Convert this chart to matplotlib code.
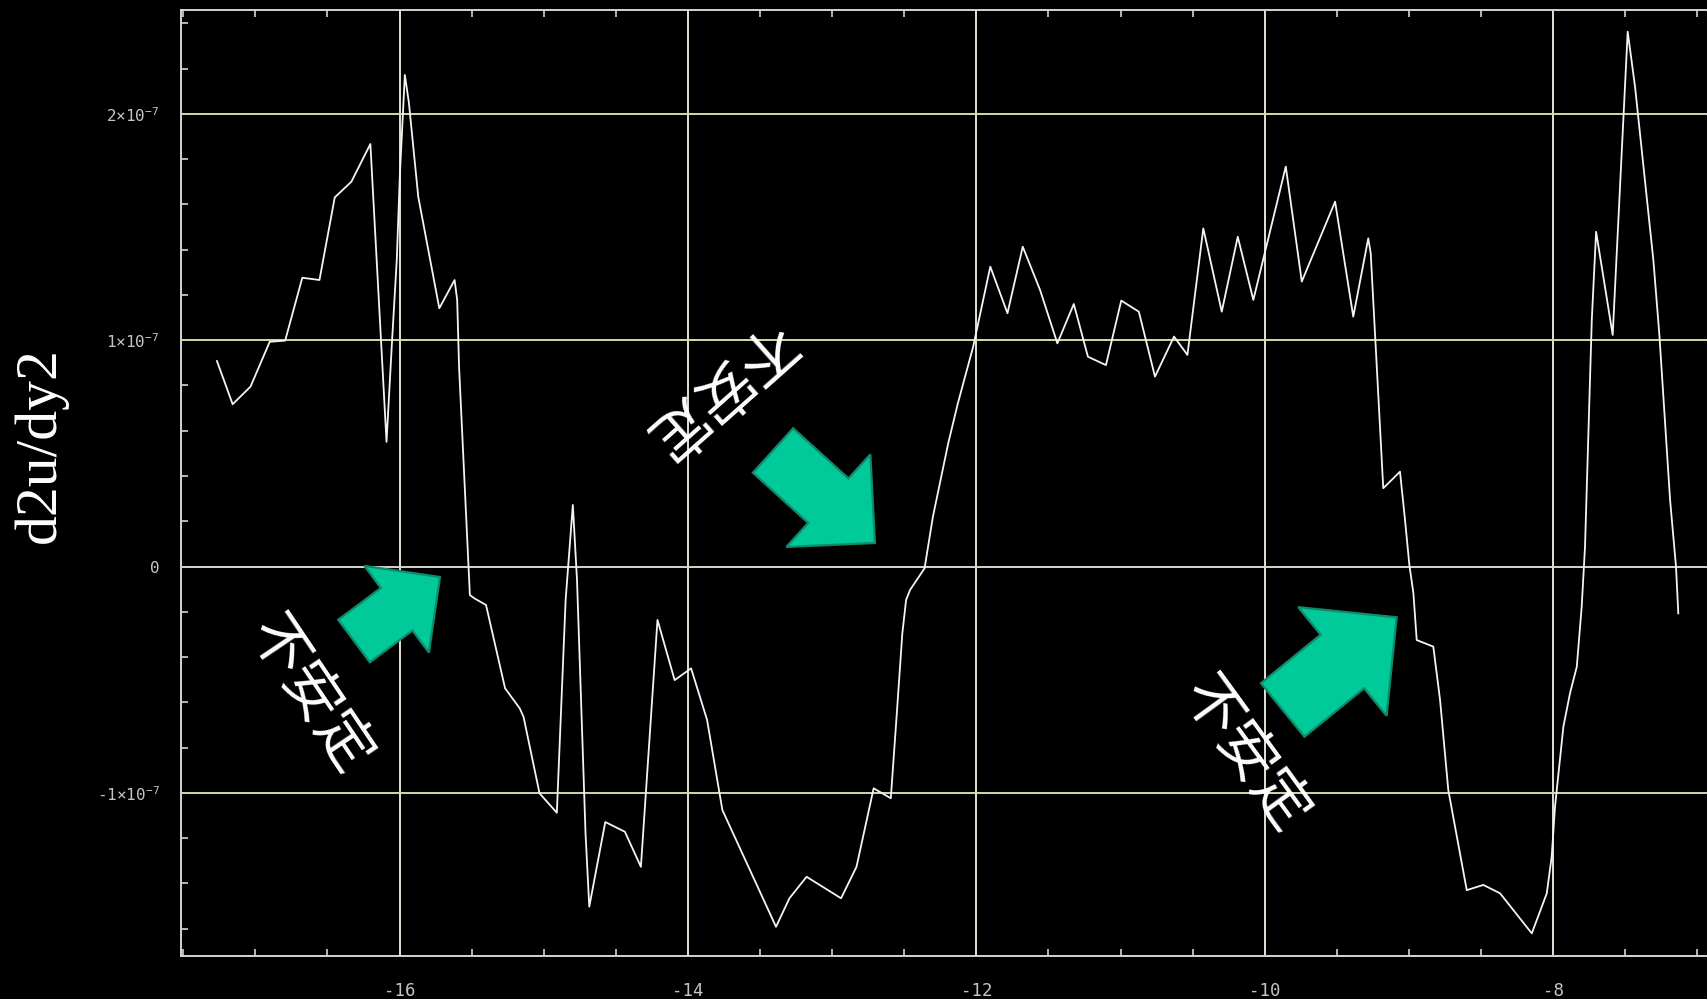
import numpy as np
import matplotlib
matplotlib.use("Agg")
import matplotlib.pyplot as plt
from matplotlib.patches import Polygon
from matplotlib.ticker import MultipleLocator

# ---- data: position y and second derivative d2u/dy2 (units of 1e-7) ----
y_pos = [-17.266, -17.157, -17.033, -16.900, -16.793, -16.674, -16.555, -16.449,
         -16.334, -16.202, -16.090, -16.054, -16.019, -15.997, -15.963, -15.935,
         -15.870, -15.724, -15.618, -15.600, -15.587, -15.512, -15.480, -15.400,
         -15.268, -15.166, -15.140, -15.029, -14.909, -14.848, -14.798, -14.769,
         -14.710, -14.684, -14.573, -14.437, -14.326, -14.211, -14.092, -13.978,
         -13.867, -13.761, -13.389, -13.296, -13.177, -12.938, -12.831, -12.712,
         -12.593, -12.553, -12.513, -12.487, -12.460, -12.359, -12.301, -12.195,
         -12.128, -12.022, -11.903, -11.784, -11.678, -11.558, -11.438, -11.324,
         -11.226, -11.101, -10.995, -10.873, -10.761, -10.629, -10.536, -10.426,
         -10.298, -10.187, -10.079, -9.854, -9.743, -9.512, -9.386, -9.282,
         -9.265, -9.223, -9.178, -9.062, -9.027, -8.997, -8.969, -8.946,
         -8.831, -8.784, -8.727, -8.599, -8.484, -8.368, -8.148, -8.044,
         -8.010, -7.987, -7.929, -7.883, -7.836, -7.802, -7.779, -7.732,
         -7.702, -7.587, -7.483, -7.432, -7.305, -7.264, -7.189, -7.148, -7.132]
d2u = [0.908, 0.717, 0.795, 0.993, 0.998, 1.276, 1.266, 1.631,
       1.700, 1.867, 0.551, 0.971, 1.354, 1.737, 2.172, 2.050,
       1.634, 1.141, 1.266, 1.178, 0.883, -0.126, -0.141, -0.170,
       -0.538, -0.627, -0.664, -1.002, -1.088, -0.148, 0.272, -0.060,
       -1.179, -1.503, -1.129, -1.172, -1.327, -0.236, -0.502, -0.450,
       -0.678, -1.076, -1.592, -1.466, -1.371, -1.466, -1.327, -0.980,
       -1.024, -0.664, -0.295, -0.148, -0.104, -0.008, 0.220, 0.544,
       0.721, 0.971, 1.325, 1.119, 1.413, 1.222, 0.986, 1.160,
       0.927, 0.890, 1.175, 1.126, 0.839, 1.016, 0.935, 1.494,
       1.126, 1.457, 1.178, 1.767, 1.259, 1.612, 1.104, 1.450,
       1.384, 0.883, 0.346, 0.419, 0.205, 0.007, -0.118, -0.325,
       -0.354, -0.590, -0.988, -1.430, -1.407, -1.444, -1.621, -1.444,
       -1.282, -1.061, -0.708, -0.560, -0.443, -0.178, 0.087, 1.089,
       1.479, 1.023, 2.363, 2.120, 1.354, 1.030, 0.294, 0.000, -0.207]
SCALE = 1e-7

x_ticks = [-16, -14, -12, -10, -8]
x_tick_labels = ["-16", "-14", "-12", "-10", "-8"]
y_ticks = [-1, 0, 1, 2]
y_tick_labels = [r"-1×10$^{\mathdefault{-7}}$", "0",
                 r"1×10$^{\mathdefault{-7}}$", r"2×10$^{\mathdefault{-7}}$"]

label_text = "不安定"

W, H = 1707, 999
fig = plt.figure(figsize=(W / 100, H / 100), dpi=100, facecolor="black")
ax = fig.add_axes([180.6 / W, 1 - 956 / H, 1 - 180.6 / W, (956 - 10) / H])
ax.set_facecolor("black")

# grid lines
grid_v = "#e2e2d4"
grid_h = "#d8d8a6"
for xv in x_ticks:
    ax.axvline(xv, color=grid_v, lw=1.4, zorder=1)
for yv in y_ticks:
    ax.axhline(yv * SCALE, color="#d6d6d0" if yv == 0 else grid_h, lw=1.4, zorder=1)

ax.plot(y_pos, np.array(d2u) * SCALE, color="#f4f4f4", lw=1.3, zorder=3)

ax.set_xlim(-17.518, -6.933)
ax.set_ylim(-1.721 * SCALE, 2.459 * SCALE)

ax.set_xticks(x_ticks)
ax.set_xticklabels(x_tick_labels)
ax.set_yticks([v * SCALE for v in y_ticks])
ax.set_yticklabels(y_tick_labels)
ax.xaxis.set_minor_locator(MultipleLocator(0.5))
ax.yaxis.set_minor_locator(MultipleLocator(0.2 * SCALE))

spine_c = "#d4d4d4"
for side in ("left", "bottom", "top"):
    ax.spines[side].set_color(spine_c)
    ax.spines[side].set_linewidth(1.4)
ax.spines["right"].set_visible(False)

ax.tick_params(axis="both", which="both", direction="in", color=spine_c, width=1.2)
ax.tick_params(axis="x", which="both", top=True, bottom=True)
ax.tick_params(axis="x", which="major", length=0, pad=19)
ax.tick_params(axis="x", which="minor", length=5)
ax.tick_params(axis="y", which="major", length=0, pad=15)
ax.tick_params(axis="y", which="minor", length=5, left=True, right=False)
for t in ax.get_xticklabels():
    t.set_fontfamily("DejaVu Sans Mono")
    t.set_fontsize(12.5)
    t.set_color("#c4c4c4")
for t in ax.get_yticklabels():
    t.set_fontfamily("DejaVu Sans Mono")
    t.set_fontsize(11.5)
    t.set_color("#c4c4c4")

# axis title
fig.text(40.5 / W, 1 - 445 / H, "d2u/dy2", rotation=90, ha="center", va="center",
         color="white", fontsize=43, family="Liberation Serif")


def block_arrow(tail, tip, shaft_w, head_w, head_len):
    """Block arrow in figure pixels (origin top-left)."""
    t = np.array(tail, float)
    p = np.array(tip, float)
    d = p - t
    L = np.hypot(*d)
    u = d / L
    n = np.array([-u[1], u[0]])
    neck = t + u * (L - head_len)
    pts = [t + n * shaft_w / 2, neck + n * shaft_w / 2, neck + n * head_w / 2, p,
           neck - n * head_w / 2, neck - n * shaft_w / 2,
           t - n * shaft_w / 2]
    pts = [(x / W, 1 - y / H) for x, y in pts]
    fig.patches.append(Polygon(pts, closed=True, transform=fig.transFigure,
                               facecolor="#00c99a", edgecolor="#108a6a", lw=1.6,
                               zorder=5))


block_arrow((354, 641), (440, 577), 53, 108, 54)
block_arrow((773, 450.5), (875, 543), 60, 125, 63)
block_arrow((1282.7, 710), (1396.7, 617.3), 69, 140, 70)

# annotation labels
for (cx, cy), rot in (((309.5, 695.5), -56), ((717.7, 390), 221.6), ((1244, 755), -54)):
    fig.text(cx / W, 1 - cy / H, label_text, rotation=rot, rotation_mode="anchor",
             ha="center", va="center", color="white", fontsize=42,
             family=["Noto Sans CJK JP", "DejaVu Sans"], zorder=6)

fig.savefig("out.png", dpi=100, facecolor="black")
